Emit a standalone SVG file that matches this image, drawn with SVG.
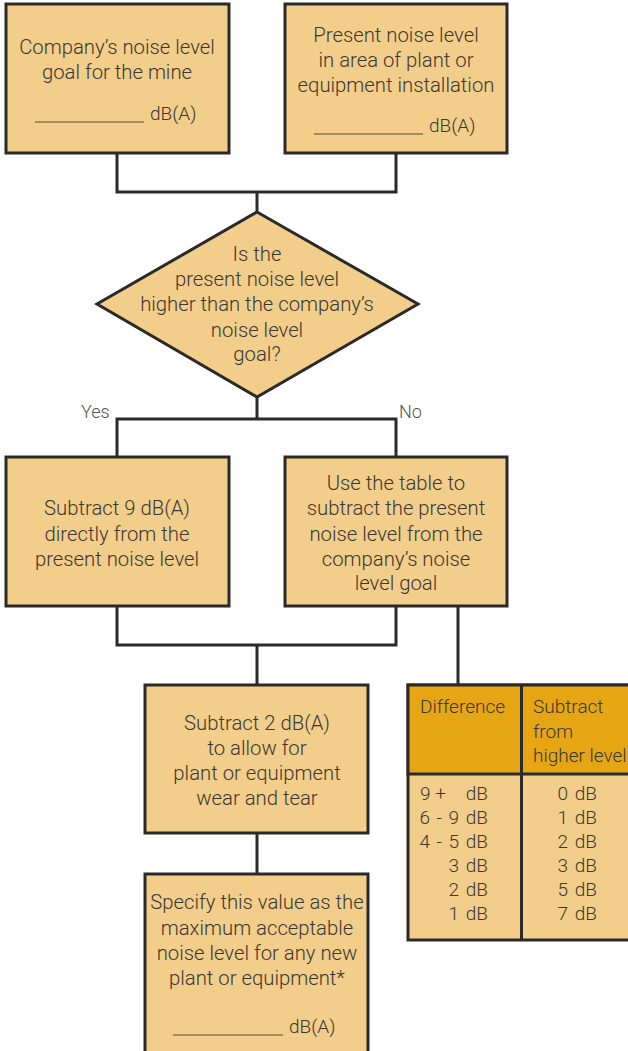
<svg xmlns="http://www.w3.org/2000/svg" width="628" height="1051" viewBox="0 0 628 1051">
<style>
.box{fill:#F3CD8A;stroke:#2a2a2a;stroke-width:3}
.hdr{fill:#E6A614;stroke:#2a2a2a;stroke-width:3}
.ln{fill:none;stroke:#2a2a2a;stroke-width:3}
.t{font-family:Roboto,"Liberation Sans",sans-serif;font-size:20.3px;font-weight:300;fill:#3a3834;text-anchor:middle}
.tl{font-family:Roboto,"Liberation Sans",sans-serif;font-size:19px;font-weight:300;fill:#3a3834}
.te{font-family:Roboto,"Liberation Sans",sans-serif;font-size:19px;font-weight:300;fill:#3a3834;text-anchor:end;word-spacing:2px}
.lab{font-family:Roboto,"Liberation Sans",sans-serif;font-size:18px;font-weight:300;fill:#555}
.ul{stroke:#8a7650;stroke-width:1.5}
</style>
<rect width="628" height="1051" fill="#fff"/>
<g id="connectors">
<polyline class="ln" points="117,153 117,192 396,192 396,153"/>
<line class="ln" x1="257" y1="192" x2="257" y2="212"/>
<line class="ln" x1="257" y1="397" x2="257" y2="419"/>
<polyline class="ln" points="117,457 117,419 396,419 396,457"/>
<polyline class="ln" points="117,606 117,645 396,645 396,606"/>
<line class="ln" x1="257" y1="645" x2="257" y2="685"/>
<line class="ln" x1="458" y1="606" x2="458" y2="685"/>
<line class="ln" x1="257" y1="833" x2="257" y2="874"/>
<text class="lab" x="81" y="418">Yes</text>
<text class="lab" x="399" y="418">No</text>
</g>
<g id="goal">
<rect class="box" x="6" y="4" width="223" height="149"/>
<text class="t" x="117" y="54">Company’s noise level</text>
<text class="t" x="117" y="79">goal for the mine</text>
<line class="ul" x1="35" y1="122" x2="144" y2="122"/>
<text class="tl" x="150" y="120" font-size="20">dB(A)</text>
</g>
<g id="present">
<rect class="box" x="285" y="4" width="222" height="149"/>
<text class="t" x="396" y="42">Present noise level</text>
<text class="t" x="396" y="67">in area of plant or</text>
<text class="t" x="396" y="92">equipment installation</text>
<line class="ul" x1="314" y1="134" x2="423" y2="134"/>
<text class="tl" x="429" y="132" font-size="20">dB(A)</text>
</g>
<g id="decision">
<polygon class="box" points="257,212 418,304 257,397 97,304"/>
<text class="t" x="257" y="261">Is the</text>
<text class="t" x="257" y="286">present noise level</text>
<text class="t" x="257" y="311">higher than the company’s</text>
<text class="t" x="257" y="337">noise level</text>
<text class="t" x="257" y="361">goal?</text>
</g>
<g id="yes-box">
<rect class="box" x="6" y="457" width="223" height="149"/>
<text class="t" x="117" y="515">Subtract 9 dB(A)</text>
<text class="t" x="117" y="541">directly from the</text>
<text class="t" x="117" y="566">present noise level</text>
</g>
<g id="no-box">
<rect class="box" x="285" y="457" width="222" height="149"/>
<text class="t" x="396" y="490">Use the table to</text>
<text class="t" x="396" y="515">subtract the present</text>
<text class="t" x="396" y="541">noise level from the</text>
<text class="t" x="396" y="566">company’s noise</text>
<text class="t" x="396" y="590">level goal</text>
</g>
<g id="wear">
<rect class="box" x="145" y="685" width="223" height="148"/>
<text class="t" x="257" y="730">Subtract 2 dB(A)</text>
<text class="t" x="257" y="755">to allow for</text>
<text class="t" x="257" y="780">plant or equipment</text>
<text class="t" x="257" y="805">wear and tear</text>
</g>
<g id="specify">
<rect class="box" x="145" y="874" width="223" height="190"/>
<text class="t" x="257" y="909">Specify this value as the</text>
<text class="t" x="257" y="935">maximum acceptable</text>
<text class="t" x="257" y="960">noise level for any new</text>
<text class="t" x="257" y="985">plant or equipment*</text>
<line class="ul" x1="173" y1="1035" x2="283" y2="1035"/>
<text class="tl" x="289" y="1033" font-size="20">dB(A)</text>
</g>
<g id="table">
<rect class="box" x="408" y="685" width="240" height="255"/>
<rect class="hdr" x="408" y="685" width="240" height="89"/>
<line class="ln" x1="521.5" y1="685" x2="521.5" y2="940"/>
<text class="tl" x="420" y="713">Difference</text>
<text class="tl" x="533" y="713">Subtract</text>
<text class="tl" x="533" y="738">from</text>
<text class="tl" x="533" y="762">higher level</text>
<text class="tl" x="420" y="800">9 +</text>
<text class="te" x="488" y="800">dB</text>
<text class="te" x="488" y="824">6 - 9 dB</text>
<text class="te" x="488" y="848">4 - 5 dB</text>
<text class="te" x="488" y="872">3 dB</text>
<text class="te" x="488" y="896">2 dB</text>
<text class="te" x="488" y="920">1 dB</text>
<text class="te" x="597" y="800">0 dB</text>
<text class="te" x="597" y="824">1 dB</text>
<text class="te" x="597" y="848">2 dB</text>
<text class="te" x="597" y="872">3 dB</text>
<text class="te" x="597" y="896">5 dB</text>
<text class="te" x="597" y="920">7 dB</text>
</g>
</svg>
